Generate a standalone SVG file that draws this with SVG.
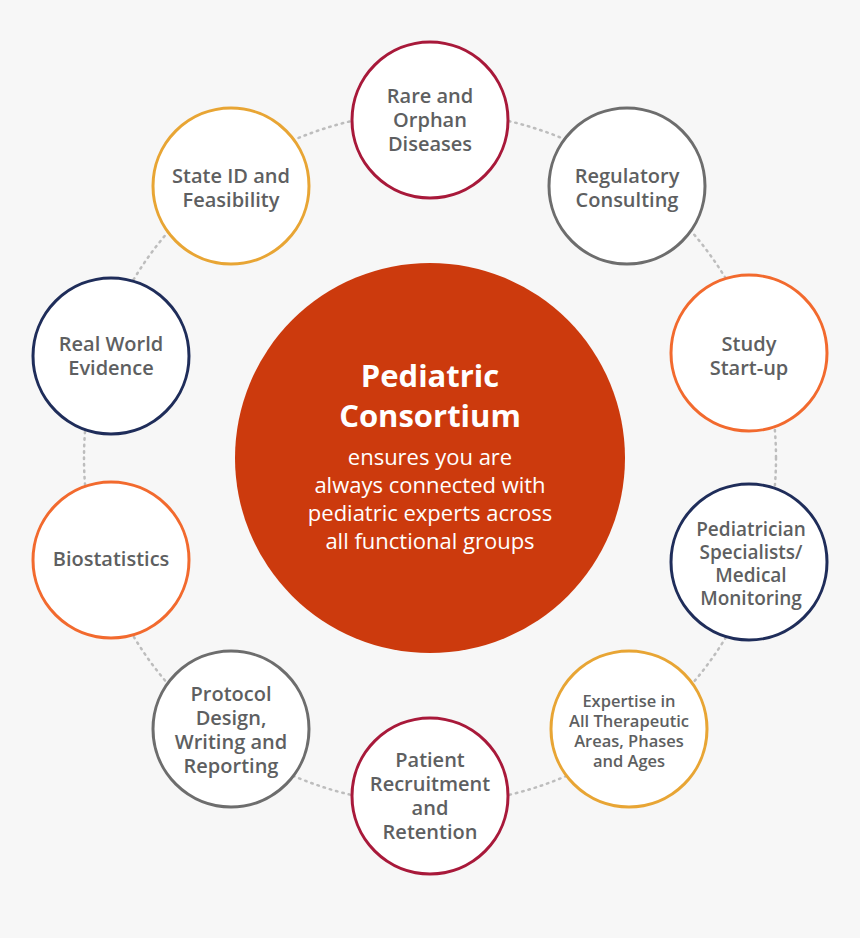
<svg xmlns="http://www.w3.org/2000/svg" width="860" height="938" viewBox="0 0 860 938">
<style>
.n{fill:#fff;stroke-width:3}
.t{font-family:"Open Sans",sans-serif;font-size:20px;font-weight:600;fill:#5e5f61;text-anchor:middle}
.s{font-size:16.5px}
.p{font-size:19px}
.c{font-family:"Open Sans",sans-serif;fill:#fff;text-anchor:middle}
</style>
<rect width="860" height="938" fill="#f7f7f7"/>
<g id="connectors"><circle cx="430" cy="458" r="346" fill="none" stroke="#bdbdbd" stroke-width="2.5" stroke-dasharray="1.5 5" stroke-linecap="round"/></g>
<g id="center"><circle cx="430" cy="458" r="195" fill="#cc3a0d"/>
<text class="c" x="430" y="387" font-size="31" font-weight="700">Pediatric</text>
<text class="c" x="430" y="427" font-size="31" font-weight="700">Consortium</text>
<text class="c" font-size="22"><tspan x="430" y="465">ensures you are</tspan><tspan x="430" y="493">always connected with</tspan><tspan x="430" y="521">pediatric experts across</tspan><tspan x="430" y="549">all functional groups</tspan></text></g>
<g id="rare"><circle class="n" cx="430" cy="120" r="78" stroke="#a8193a"/><text class="t"><tspan x="430" y="103">Rare and</tspan><tspan x="430" y="127">Orphan</tspan><tspan x="430" y="151">Diseases</tspan></text></g>
<g id="regulatory"><circle class="n" cx="627" cy="186" r="78" stroke="#6d6d6d"/><text class="t"><tspan x="627" y="183">Regulatory</tspan><tspan x="627" y="207">Consulting</tspan></text></g>
<g id="study"><circle class="n" cx="749" cy="353" r="78" stroke="#f26a2e"/><text class="t"><tspan x="749" y="351">Study</tspan><tspan x="749" y="375">Start-up</tspan></text></g>
<g id="pediatrician"><circle class="n" cx="749" cy="562" r="78" stroke="#1f2d5a"/><text class="t p"><tspan x="751" y="536">Pediatrician</tspan><tspan x="751" y="559">Specialists/</tspan><tspan x="751" y="582">Medical</tspan><tspan x="751" y="605">Monitoring</tspan></text></g>
<g id="expertise"><circle class="n" cx="629" cy="729" r="78" stroke="#e8a534"/><text class="t s"><tspan x="629" y="707">Expertise in</tspan><tspan x="629" y="727">All Therapeutic</tspan><tspan x="629" y="747">Areas, Phases</tspan><tspan x="629" y="767">and Ages</tspan></text></g>
<g id="patient"><circle class="n" cx="430" cy="796" r="78" stroke="#a8193a"/><text class="t"><tspan x="430" y="767">Patient</tspan><tspan x="430" y="791">Recruitment</tspan><tspan x="430" y="815">and</tspan><tspan x="430" y="839">Retention</tspan></text></g>
<g id="protocol"><circle class="n" cx="231" cy="729" r="78" stroke="#6d6d6d"/><text class="t"><tspan x="231" y="701">Protocol</tspan><tspan x="231" y="725">Design,</tspan><tspan x="231" y="749">Writing and</tspan><tspan x="231" y="773">Reporting</tspan></text></g>
<g id="biostatistics"><circle class="n" cx="111" cy="560" r="78" stroke="#f26a2e"/><text class="t" x="111" y="566">Biostatistics</text></g>
<g id="realworld"><circle class="n" cx="111" cy="356" r="78" stroke="#1f2d5a"/><text class="t"><tspan x="111" y="351">Real World</tspan><tspan x="111" y="375">Evidence</tspan></text></g>
<g id="stateid"><circle class="n" cx="231" cy="186" r="78" stroke="#e8a534"/><text class="t"><tspan x="231" y="183">State ID and</tspan><tspan x="231" y="207">Feasibility</tspan></text></g>
</svg>
